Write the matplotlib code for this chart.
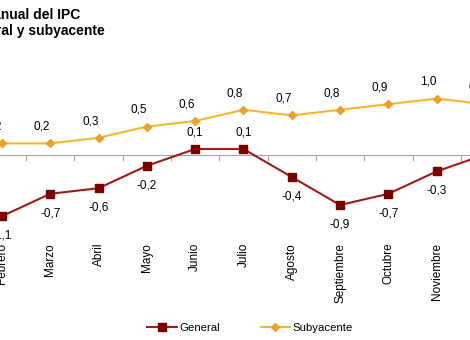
import matplotlib
matplotlib.use("Agg")
import matplotlib.pyplot as plt
from matplotlib.ticker import FixedLocator, NullFormatter

plt.rcParams['font.family'] = ['Liberation Sans', 'DejaVu Sans']

meses = ['Enero', 'Febrero', 'Marzo', 'Abril', 'Mayo', 'Junio', 'Julio',
         'Agosto', 'Septiembre', 'Octubre', 'Noviembre', 'Diciembre']
general = [-1.3, -1.1, -0.7, -0.6, -0.2, 0.1, 0.1, -0.4, -0.9, -0.7, -0.3, 0.0]
subyacente = [0.2, 0.2, 0.2, 0.3, 0.5, 0.6, 0.8, 0.7, 0.8, 0.9, 1.0, 0.9]

titulo1 = 'Tasa de variación anual del IPC'
titulo2 = 'General y subyacente'

W, H = 470, 340
fig = plt.figure(figsize=(W / 100, H / 100), dpi=100)

# plot area is wider than the picture (chart was cropped left and right)
left_px, width_px = -70.5, 579.6
bottom_px, height_px = 238.6, 168.0
ax = fig.add_axes([left_px / W, 1 - bottom_px / H, width_px / W, height_px / H])

x = range(len(meses))
ax.plot(x, general, color='#a01c1c', lw=1.5, marker='s', ms=5.5,
        mfc='#7a0000', mec='#7a0000', zorder=3, label='General')
ax.plot(x, subyacente, color='#f4b82e', lw=1.5, marker='D', ms=4.5,
        mfc='#eea12a', mec='#eea12a', zorder=3, label='Subyacente')

for i, v in enumerate(general):
    off = 12 if v > 0 else -14
    ax.annotate(f'{v:.1f}'.replace('.', ','), (i, v), xytext=(0, off),
                textcoords='offset points', ha='center', va='center', fontsize=8.5)
for i, v in enumerate(subyacente):
    ax.annotate(f'{v:.1f}'.replace('.', ','), (i, v), xytext=(-6, 12),
                textcoords='offset points', ha='center', va='center', fontsize=8.5)

ax.set_xlim(-0.5, len(meses) - 0.5)
ax.set_ylim(-1.5, 1.5)
for s in ['top', 'right', 'left']:
    ax.spines[s].set_visible(False)
ax.set_yticks([])
ax.spines['bottom'].set_position(('data', 0))
ax.spines['bottom'].set_color('#a6a6a6')
ax.xaxis.set_major_locator(FixedLocator([i + 0.5 for i in range(len(meses) - 1)]))
ax.xaxis.set_major_formatter(NullFormatter())
ax.tick_params(axis='x', length=4, color='#a6a6a6', direction='out')

sec = ax.secondary_xaxis(0)
sec.set_xticks(list(x))
sec.set_xticklabels(meses, rotation=90, va='top', ha='center', fontsize=8.5)
sec.tick_params(length=0, pad=3)
sec.spines['bottom'].set_visible(False)

# title, partly cut off at the left edge
fig.canvas.draw()
r = fig.canvas.get_renderer()
t = fig.text(0, 0, 'Tasa de variación a', fontsize=10, fontweight='bold')
w1 = t.get_window_extent(r).width
t.remove()
t = fig.text(0, 0, 'Gener', fontsize=10, fontweight='bold')
w2 = t.get_window_extent(r).width
t.remove()
fig.text((-w1 + 1) / W, 1 - 15 / H, titulo1, fontsize=10, fontweight='bold', va='center')
fig.text((-w2 + 1) / W, 1 - 31 / H, titulo2, fontsize=10, fontweight='bold', va='center')

fig.legend(loc='center', bbox_to_anchor=(250 / W, 1 - 328 / H), ncol=2,
           frameon=False, fontsize=8.2, handlelength=2.6, columnspacing=3.6,
           handletextpad=0.2)

fig.savefig('out.png', dpi=100)
